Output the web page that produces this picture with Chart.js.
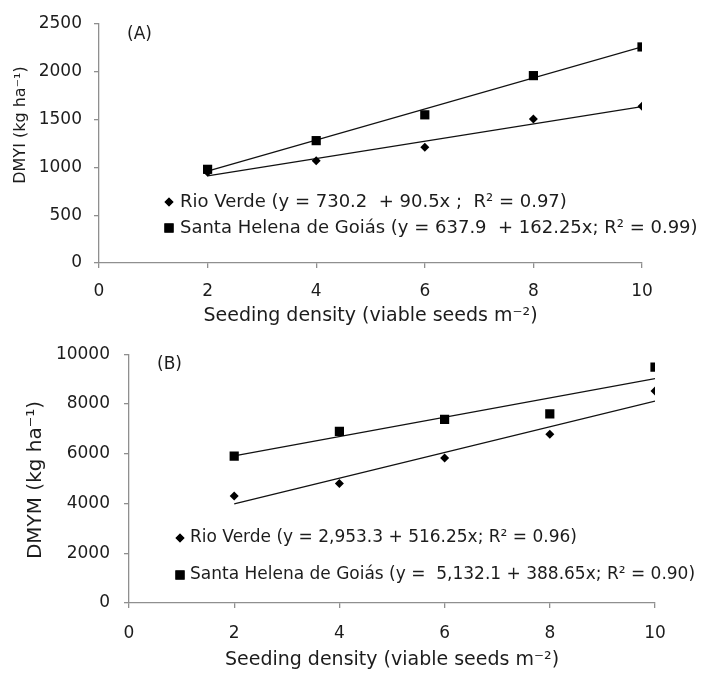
<!DOCTYPE html>
<html>
<head>
<meta charset="utf-8">
<script src="https://cdn.jsdelivr.net/npm/chart.js@4.4.1/dist/chart.umd.min.js"></script>
<style>
  html, body { margin: 0; padding: 0; background: #fff; }
  body { position: relative; width: 705px; height: 673px; overflow: hidden; }
  canvas { position: absolute; left: 0; }
  #panelA { top: 0; }
  #panelB { top: 330px; }
</style>
</head>
<body>
<canvas id="panelA" width="705" height="330"></canvas>
<canvas id="panelB" width="705" height="343"></canvas>
<script>
// --------------------
// Data
// --------------------
const seedingDensity = [2, 4, 6, 8, 10];
const dmyiRioVerde = [950, 1070, 1210, 1505, 1640];
const dmyiSantaHelena = [980, 1280, 1550, 1960, 2260];
const dmymRioVerde = [4300, 4800, 5830, 6780, 8520];
const dmymSantaHelena = [5900, 6900, 7380, 7600, 9480];

// fitted lines, drawn between the first and last density
const fitDensity = [2, 10];
const dmyiRioVerdeFit = [911, 1635];
const dmyiSantaHelenaFit = [962, 2260];
const dmymRioVerdeFit = [3986, 8116];
const dmymSantaHelenaFit = [5909, 9019];

const xTicks = [0, 2, 4, 6, 8, 10];
const dmyiTicks = [0, 500, 1000, 1500, 2000, 2500];
const dmymTicks = [0, 2000, 4000, 6000, 8000, 10000];

const legendA = [
    'Rio Verde (y = 730.2  + 90.5x ;  R² = 0.97)',
    'Santa Helena de Goiás (y = 637.9  + 162.25x; R² = 0.99)'
];
const legendB = [
    'Rio Verde (y = 2,953.3 + 516.25x; R² = 0.96)',
    'Santa Helena de Goiás (y =  5,132.1 + 388.65x; R² = 0.90)'
];

const FONT = '"DejaVu Sans", sans-serif';
const TEXT = '#1c1c1c';
const AXIS = '#8f8f8f';

const toPoints = (xs, ys) => xs.map((x, i) => ({ x: x, y: ys[i] }));

// draws panel letter, legend and the y title inside each panel
const panelNotes = {
    id: 'panelNotes',
    afterDraw(chart, args, opts) {
        const ctx = chart.ctx;
        ctx.save();
        ctx.fillStyle = TEXT;
        ctx.textBaseline = 'middle';
        ctx.font = opts.labelFont + 'px ' + FONT;
        ctx.textAlign = 'left';
        ctx.fillText(opts.label, opts.labelX, opts.labelY);

        ctx.font = opts.legendFont + 'px ' + FONT;
        opts.legend.forEach((txt, i) => {
            const y = opts.legendY[i];
            Chart.helpers.drawPoint(ctx, {
                pointStyle: i === 0 ? 'rectRot' : 'rect',
                radius: i === 0 ? 4.5 : 6.5,
                rotation: 0,
                borderWidth: 0
            }, opts.markerX, y);
            ctx.fillStyle = '#000';
            ctx.fill();
            ctx.fillStyle = TEXT;
            ctx.fillText(txt, opts.textX, y);
        });

        ctx.translate(opts.titleX, opts.titleY);
        ctx.rotate(-Math.PI / 2);
        ctx.textAlign = 'center';
        ctx.font = opts.titleFont + 'px ' + FONT;
        ctx.fillText(opts.title, 0, 0);
        ctx.restore();
    }
};

function makePanel(canvasId, p) {
    return new Chart(document.getElementById(canvasId), {
        type: 'scatter',
        data: {
            datasets: [
                {
                    label: 'Rio Verde',
                    data: toPoints(seedingDensity, p.rio),
                    pointStyle: 'rectRot',
                    pointRadius: 4.5,
                    backgroundColor: '#000',
                    borderWidth: 0,
                    order: 1
                },
                {
                    label: 'Santa Helena de Goiás',
                    data: toPoints(seedingDensity, p.santa),
                    pointStyle: 'rect',
                    pointRadius: 6.5,
                    backgroundColor: '#000',
                    borderWidth: 0,
                    order: 1
                },
                {
                    label: 'Rio Verde fit',
                    data: toPoints(fitDensity, p.rioFit),
                    showLine: true,
                    pointRadius: 0,
                    borderColor: '#111',
                    borderWidth: 1.3,
                    order: 2
                },
                {
                    label: 'Santa Helena fit',
                    data: toPoints(fitDensity, p.santaFit),
                    showLine: true,
                    pointRadius: 0,
                    borderColor: '#111',
                    borderWidth: 1.3,
                    order: 2
                }
            ]
        },
        options: {
            responsive: false,
            animation: false,
            events: [],
            layout: { padding: { top: p.padTop, right: p.padRight, left: 0, bottom: 0 } },
            plugins: {
                legend: { display: false },
                tooltip: { enabled: false },
                panelNotes: p.notes
            },
            scales: {
                x: {
                    type: 'linear',
                    min: 0,
                    max: 10,
                    afterBuildTicks: (s) => { s.ticks = xTicks.map(v => ({ value: v })); },
                    afterFit: (s) => { s.height = p.xHeight; },
                    ticks: {
                        color: TEXT,
                        font: { family: FONT, size: 17 },
                        padding: p.xTickPad,
                        callback: (v) => String(v)
                    },
                    grid: { drawOnChartArea: false, tickLength: 5, color: AXIS, lineWidth: 1.3 },
                    border: { color: AXIS, width: 1.3 },
                    title: {
                        display: true,
                        text: 'Seeding density (viable seeds m⁻²)',
                        color: TEXT,
                        font: { family: FONT, size: 19 },
                        padding: { top: 0, bottom: p.xTitlePad }
                    }
                },
                y: {
                    min: p.yTicks[0],
                    max: p.yTicks[p.yTicks.length - 1],
                    afterBuildTicks: (s) => { s.ticks = p.yTicks.map(v => ({ value: v })); },
                    afterFit: (s) => { s.width = p.yWidth; },
                    ticks: {
                        color: TEXT,
                        font: { family: FONT, size: 17 },
                        padding: p.yTickPad,
                        callback: (v) => String(v)
                    },
                    grid: { drawOnChartArea: false, tickLength: 5, color: AXIS, lineWidth: 1.3 },
                    border: { color: AXIS, width: 1.3 }
                }
            }
        },
        plugins: [panelNotes]
    });
}

makePanel('panelA', {
    rio: dmyiRioVerde, santa: dmyiSantaHelena,
    rioFit: dmyiRioVerdeFit, santaFit: dmyiSantaHelenaFit,
    yTicks: dmyiTicks,
    padTop: 24, padRight: 63, xHeight: 67, yWidth: 99,
    xTickPad: 13, xTitlePad: 3, yTickPad: 12,
    notes: {
        label: '(A)', labelX: 127, labelY: 35, labelFont: 17,
        legend: legendA, legendY: [202, 228], markerX: 169, textX: 180, legendFont: 18,
        title: 'DMYI (kg ha⁻¹)', titleX: 21, titleY: 125, titleFont: 16
    }
});

makePanel('panelB', {
    rio: dmymRioVerde, santa: dmymSantaHelena,
    rioFit: dmymRioVerdeFit, santaFit: dmymSantaHelenaFit,
    yTicks: dmymTicks,
    padTop: 23, padRight: 50, xHeight: 70, yWidth: 129,
    xTickPad: 15, xTitlePad: 2, yTickPad: 14,
    notes: {
        label: '(B)', labelX: 157, labelY: 35, labelFont: 17,
        legend: legendB, legendY: [208, 245], markerX: 180, textX: 190, legendFont: 17,
        title: 'DMYM (kg ha⁻¹)', titleX: 36, titleY: 150, titleFont: 20
    }
});
</script>
</body>
</html>
